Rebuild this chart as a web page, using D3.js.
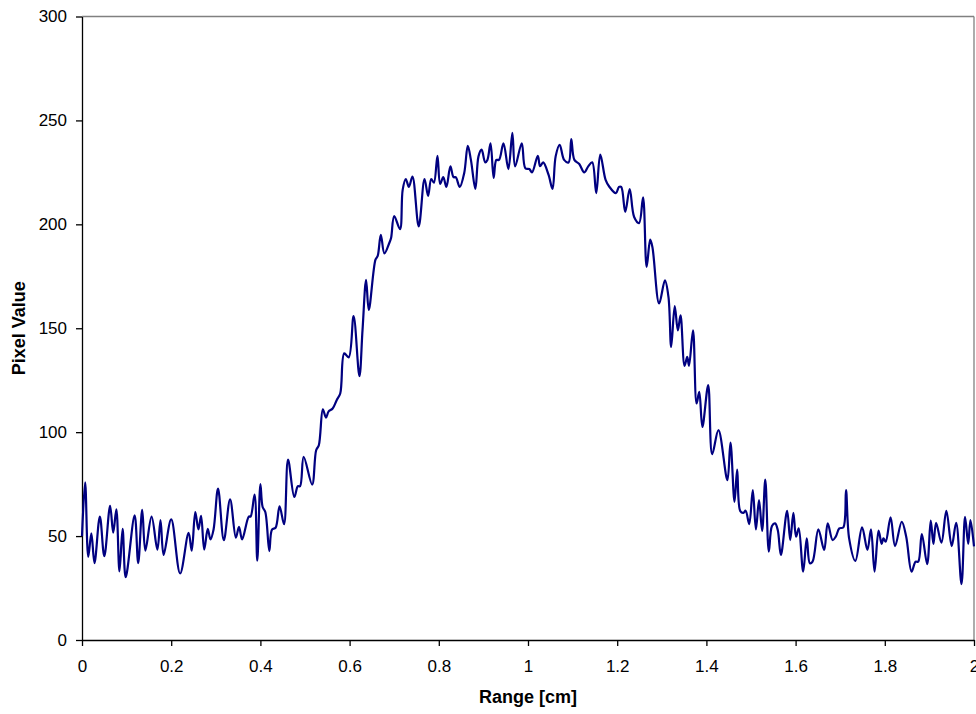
<!DOCTYPE html>
<html>
<head>
<meta charset="utf-8">
<script src="https://cdn.jsdelivr.net/npm/d3@7"></script>
<style>
  body { margin: 0; background: #fff; }
  svg { display: block; font-family: "Liberation Sans", Arial, sans-serif; }
</style>
</head>
<body>
<div id="container"></div>
<script>
// profile (range in cm, pixel value)
let rangeCm = [
  0, 0.007, 0.014, 0.021, 0.028, 0.040, 0.050, 0.063, 0.070, 0.077, 0.084, 0.091, 0.098, 0.118, 0.126, 0.135,
  0.142, 0.156, 0.169, 0.176, 0.183, 0.200, 0.220, 0.239, 0.246, 0.254, 0.261, 0.267, 0.274, 0.282, 0.288, 0.295,
  0.305, 0.318, 0.332, 0.345, 0.352, 0.359, 0.374, 0.378, 0.387, 0.393, 0.400,
  0.405, 0.411, 0.420, 0.426, 0.434, 0.443, 0.453, 0.462, 0.476, 0.484, 0.489, 0.497, 0.516, 0.525, 0.531, 0.540,
  0.547, 0.553, 0.562, 0.571, 0.579, 0.588, 0.598, 0.609, 0.622, 0.629, 0.637, 0.643, 0.658, 0.663, 0.670, 0.678, 0.689,
  0.693, 0.700, 0.713, 0.719, 0.726, 0.733, 0.741, 0.755, 0.768, 0.776, 0.783, 0.789, 0.797, 0.803, 0.810, 0.817,
  0.826, 0.833, 0.838, 0.847, 0.857, 0.865, 0.872, 0.882, 0.889, 0.896, 0.904, 0.909, 0.916, 0.923, 0.929, 0.935,
  0.945, 0.956, 0.965, 0.971, 0.986, 0.994, 1.003, 1.009, 1.022, 1.027, 1.034, 1.046, 1.055, 1.062, 1.071, 1.081,
  1.091, 1.097, 1.104, 1.115, 1.126, 1.135, 1.144, 1.153, 1.162, 1.174, 1.182, 1.197, 1.204, 1.209, 1.218, 1.228,
  1.238, 1.249, 1.258, 1.266, 1.274, 1.279, 1.294, 1.307, 1.315, 1.321, 1.329, 1.336, 1.342, 1.351, 1.357, 1.361,
  1.370, 1.378, 1.384, 1.391, 1.404, 1.413, 1.427, 1.447, 1.454, 1.463, 1.469, 1.476, 1.483, 1.488, 1.496, 1.504,
  1.511, 1.518, 1.525, 1.532, 1.540, 1.547, 1.554, 1.560, 1.567, 1.581, 1.588, 1.595, 1.601, 1.607, 1.617, 1.625,
  1.632, 1.638, 1.651, 1.664, 1.672, 1.683, 1.690, 1.698, 1.707, 1.713, 1.720, 1.734, 1.749, 1.761, 1.769, 1.777,
  1.786, 1.793, 1.797, 1.802, 1.813, 1.823, 1.838, 1.848, 1.860, 1.869, 1.875, 1.883, 1.895, 1.903, 1.909, 1.915,
  1.927, 1.938, 1.950, 1.960, 1.972, 1.980, 1.987, 1.992, 2.000
];
let pixelValue = [
  50, 75.8, 40, 51.3, 37, 59.4, 40.3, 64.5, 51.6, 62.9, 33, 53.5, 30.2, 60, 37, 62.6,
  43, 59.4, 43.5, 57.7, 41, 58, 32, 51.6, 43, 61.6, 53.2, 59.7, 43.5, 53.5, 48.4, 53.2,
  72.9, 48, 67.7, 49.2, 54.5, 48.4, 59.4, 59.4, 70, 38.2, 75,
  64, 61.6, 42.8, 53.1, 54, 64.3, 55.7, 86.8, 68.8, 74, 74, 88.1, 74.8, 91.3, 93.7, 111,
  107, 110, 111.4, 115.4, 118.6, 137.9, 136, 155.9, 127, 149.2, 173.3, 158.8, 183, 184.8, 195, 186, 191,
  193.4, 204, 197.7, 216.6, 221.8, 218, 223, 199, 221.8, 213.7, 221.8, 220, 233, 219.5, 222.7, 218,
  227.9, 222.7, 222.7, 218, 224.7, 237.8, 231, 217, 232.7, 235.9, 229.8, 231, 239, 222.3, 231, 231,
  239, 226.6, 244, 227.9, 239, 227, 226.6, 225, 233, 228, 229.8, 223.9, 217, 232.7, 238.3, 231,
  229.8, 241, 231, 229, 225, 227.9, 229.8, 215, 233.5, 221.4, 218.2, 215, 218, 218, 206, 217,
  203.5, 200.6, 213, 179.5, 192.6, 189, 161.9, 173, 165, 141, 160.6, 149, 156.2, 131.9, 136.2, 131.9,
  149, 113.8, 119.4, 102.5, 122.6, 89.4, 101, 76.9, 95, 66.5, 82, 62, 61.2, 62.2, 55.8, 72.1,
  53.2, 67.3, 52.5, 77.2, 42.5, 54.8, 56.1, 52.9, 40.9, 62.2, 48.1, 61.2, 49.7, 53.7, 32.9, 48.9,
  36.9, 37.7, 53.2, 43.3, 56.1, 48.1, 49.7, 53.7, 54.2, 72.1, 48.9, 38.1, 54.2, 43.3, 53.2, 32.9,
  52.6, 46.2, 48.9, 47.3, 59, 45.2, 56.9, 49.7, 32.9, 37.7, 37.7, 51, 36.5, 57.4, 46.2, 56.4,
  46.8, 62.2, 45.2, 56.4, 26.9, 59.3, 46.2, 57.7, 45
];
let xTicks = [0, 0.2, 0.4, 0.6, 0.8, 1, 1.2, 1.4, 1.6, 1.8, 2];
let yTicks = [0, 50, 100, 150, 200, 250, 300];

let w = 976;
let h = 714;
let plotLeft = 82, plotRight = 974, plotTop = 16.5, plotBottom = 640;

let svg = d3.select("#container").append("svg")
  .attr("width", w)
  .attr("height", h);

let xScale = d3.scaleLinear().domain([0, 2]).range([plotLeft, plotRight]);
let yScale = d3.scaleLinear().domain([0, 300]).range([plotBottom, plotTop]);

// gray frame on top and right
svg.append("line")
  .attr("x1", plotLeft).attr("x2", plotRight).attr("y1", plotTop).attr("y2", plotTop)
  .attr("stroke", "#808080").attr("stroke-width", 1.3);
svg.append("line")
  .attr("x1", plotRight).attr("x2", plotRight).attr("y1", plotTop).attr("y2", plotBottom)
  .attr("stroke", "#808080").attr("stroke-width", 1.3);

let yAxis = svg.append("g")
  .attr("transform", "translate(" + plotLeft + ",0)")
  .call(d3.axisLeft(yScale).tickValues(yTicks).tickSize(6).tickSizeOuter(0).tickPadding(9));

let xAxis = svg.append("g")
  .attr("transform", "translate(0," + plotBottom + ")")
  .call(d3.axisBottom(xScale).tickValues(xTicks).tickFormat(d => d).tickSize(6).tickSizeOuter(0).tickPadding(14));

svg.selectAll(".domain, .tick line").attr("stroke", "#000").attr("stroke-width", 1.3);
svg.selectAll(".tick text").attr("fill", "#000").style("font-size", "17px")
  .style("font-family", "'Liberation Sans', Arial, sans-serif");

let line = d3.line()
  .x((d, i) => xScale(rangeCm[i]))
  .y(d => yScale(d))
  .curve(d3.curveCatmullRom.alpha(0.5));

svg.append("path")
  .datum(pixelValue)
  .attr("d", line)
  .attr("fill", "none")
  .attr("stroke", "#000080")
  .attr("stroke-width", 2.2)
  .attr("stroke-linejoin", "round");

svg.append("text")
  .attr("x", (plotLeft + plotRight) / 2)
  .attr("y", 703)
  .attr("text-anchor", "middle")
  .style("font-size", "18px")
  .style("font-weight", "bold")
  .text("Range [cm]");

svg.append("text")
  .attr("transform", "translate(25," + (plotTop + plotBottom) / 2 + ") rotate(-90)")
  .attr("text-anchor", "middle")
  .style("font-size", "18px")
  .style("font-weight", "bold")
  .text("Pixel Value");
</script>
</body>
</html>
